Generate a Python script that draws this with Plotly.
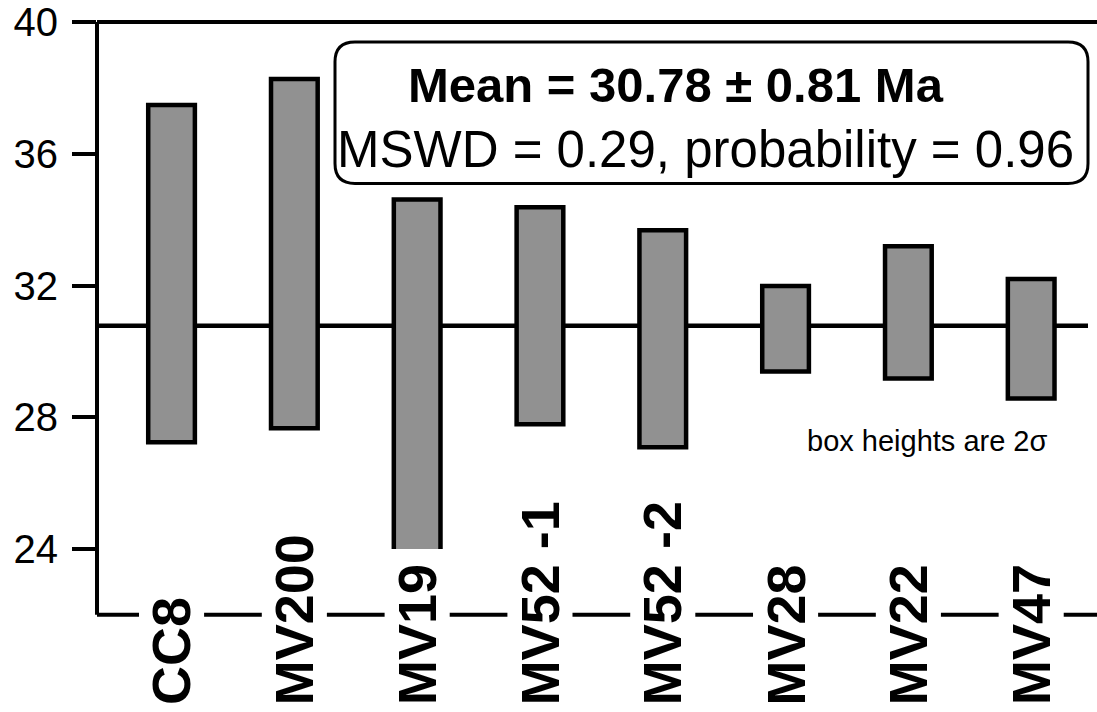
import plotly.graph_objects as go

# ---- data ----
samples = ["CC8", "MV200", "MV19", "MV52 -1", "MV52 -2", "MV28", "MV22", "MV47"]
box_low = [27.24, 27.67, 23.0, 27.79, 27.09, 29.39, 29.18, 28.57]
box_high = [37.49, 38.28, 34.62, 34.38, 33.68, 31.99, 33.20, 32.20]
mean_age = 30.78
mean_err = 0.81
mswd = 0.29
probability = 0.96
y_ticks = [24, 28, 32, 36, 40]

# ---- layout helpers (pixel -> paper) ----
W, H = 1097, 712
ML, MR, MT, MB = 97, 0, 20, 163
PW, PH = W - ML - MR, H - MT - MB


def py(p):
    return (H - MB - p) / PH


def px(p):
    return (p - ML) / PW


BOLD = "Liberation Sans, Arial, sans-serif"
REG = "Liberation Sans, Arial, sans-serif"

x = list(range(len(samples)))
xmin, xmax = -0.607, 7.536

fig = go.Figure(
    go.Bar(
        x=x,
        y=[h - l for h, l in zip(box_high, box_low)],
        base=box_low,
        width=0.38,
        marker=dict(color="#919191", line=dict(color="black", width=4.5)),
        hoverinfo="skip",
    )
)

shapes = []
# mean line (behind boxes)
shapes.append(dict(type="line", xref="paper", yref="y", x0=0, x1=px(1088),
                   y0=mean_age, y1=mean_age, line=dict(color="black", width=4.5),
                   layer="below"))
# top frame line
shapes.append(dict(type="line", xref="paper", yref="paper", x0=0, x1=1, y0=1, y1=1,
                   line=dict(color="black", width=4)))
# left axis line extending to the lower baseline
y_base = py(615)
shapes.append(dict(type="line", xref="paper", yref="paper", x0=0, x1=0, y0=y_base, y1=1,
                   line=dict(color="black", width=4)))
# bottom baseline, broken around labels
gap = 0.265
for i in range(len(samples) + 1):
    x0 = xmin if i == 0 else (i - 1) + gap
    x1 = xmax if i == len(samples) else i - gap
    shapes.append(dict(type="line", xref="x", yref="paper", x0=x0, x1=x1,
                       y0=y_base, y1=y_base, line=dict(color="black", width=4)))

# rounded box for statistics
bx0, bx1, by0, by1 = px(335), px(1088), py(182), py(40)
rx, ry = 20 / PW, 20 / PH
path = (f"M {bx0+rx},{by1} L {bx1-rx},{by1} Q {bx1},{by1} {bx1},{by1-ry} "
        f"L {bx1},{by0+ry} Q {bx1},{by0} {bx1-rx},{by0} L {bx0+rx},{by0} "
        f"Q {bx0},{by0} {bx0},{by0+ry} L {bx0},{by1-ry} Q {bx0},{by1} {bx0+rx},{by1} Z")
shapes.append(dict(type="path", xref="paper", yref="paper", path=path,
                   line=dict(color="black", width=3), fillcolor="white"))

annotations = []
for i, s in enumerate(samples):
    annotations.append(dict(x=i, xref="x", y=py(708), yref="paper", yanchor="bottom",
                            xanchor="center", textangle=-90, showarrow=False,
                            text=f"<b>{s}</b>",
                            font=dict(family=BOLD, size=54, color="black")))
annotations.append(dict(x=px(676), y=py(83), xref="paper", yref="paper",
                        xanchor="center", yanchor="middle", showarrow=False,
                        text=f"<b>Mean = {mean_age:.2f} ± {mean_err:.2f} Ma</b>",
                        font=dict(family=BOLD, size=49, color="black")))
annotations.append(dict(x=px(705), y=py(148), xref="paper", yref="paper",
                        xanchor="center", yanchor="middle", showarrow=False,
                        text=f"MSWD = {mswd:.2f}, probability = {probability:.2f}",
                        font=dict(family=REG, size=51, color="black")))
annotations.append(dict(x=6.152, y=27.27, xref="x", yref="y",
                        xanchor="center", yanchor="middle", showarrow=False,
                        text="box heights are 2σ",
                        font=dict(family=REG, size=29, color="black")))

fig.update_layout(
    width=W, height=H,
    margin=dict(l=ML, r=MR, t=MT, b=MB, pad=0),
    paper_bgcolor="white", plot_bgcolor="white",
    showlegend=False,
    shapes=shapes,
    annotations=annotations,
    xaxis=dict(range=[xmin, xmax], showticklabels=False, showgrid=False,
               zeroline=False, showline=False, ticks=""),
    yaxis=dict(range=[24, 40.01], tickvals=y_ticks, ticks="outside", ticklen=24,
               tickwidth=4, tickcolor="black", showgrid=False, zeroline=False,
               showline=False, ticklabelstandoff=6, ticklabeloverflow="allow",
               tickfont=dict(family=REG, size=40, color="black")),
)

fig.write_html("out.html")
